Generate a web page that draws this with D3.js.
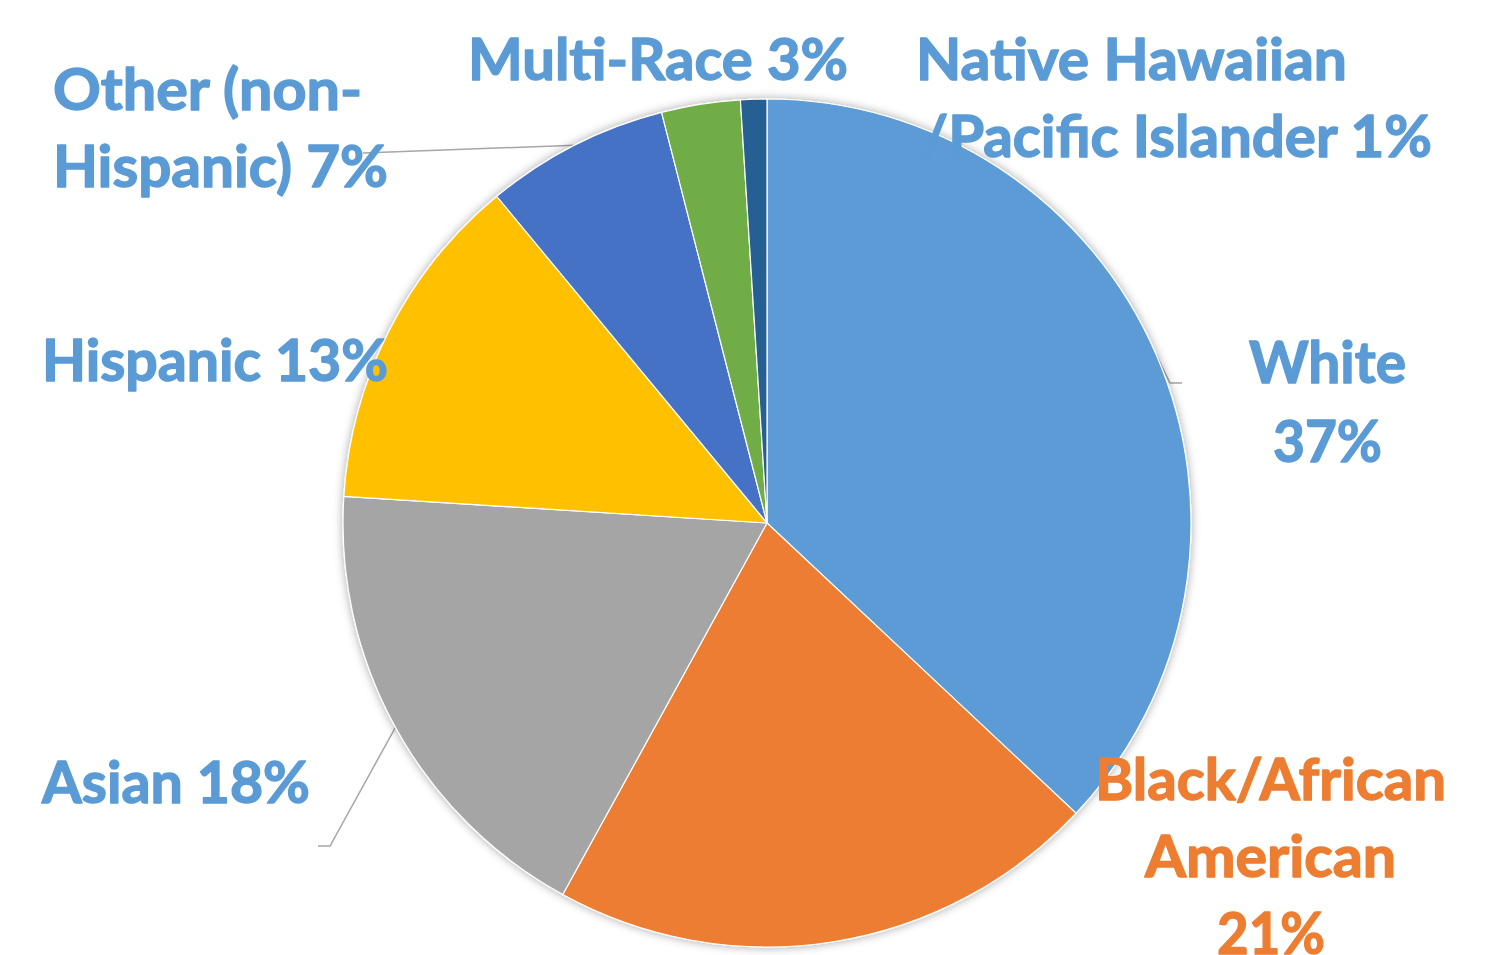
<!DOCTYPE html>
<html>
<head>
<meta charset="utf-8">
<script src="https://cdn.jsdelivr.net/npm/d3@7"></script>
<style>
  html, body { margin: 0; padding: 0; background: #fff; }
  svg { display: block; }
  text { font-family: Lato, "Open Sans", sans-serif; font-weight: 700; }
</style>
</head>
<body>
<svg id="chart" width="1494" height="955"></svg>
<script>
// ---- data ----
const categories = ["White", "Black/African American", "Asian", "Hispanic", "Other (non-Hispanic)", "Multi-Race", "Native Hawaiian /Pacific Islander"];
const values = [37, 21, 18, 13, 7, 3, 1];
const colors = ["#5B9BD5", "#ED7D31", "#A5A5A5", "#FFC000", "#4472C4", "#70AD47", "#255E91"];
const labelColors = ["#5B9BD5", "#ED7D31", "#5B9BD5", "#5B9BD5", "#5B9BD5", "#5B9BD5", "#5B9BD5"];
const labelLines = [
  ["White", "37%"],
  ["Black/African", "American", "21%"],
  ["Asian 18%"],
  ["Hispanic 13%"],
  ["Other (non-", "Hispanic) 7%"],
  ["Multi-Race 3%"],
  ["Native Hawaiian", "/Pacific Islander 1%"]
];

// ---- layout (positions/sizes) ----
const cx = 767, cy = 523, R = 424;
const fontSize = 57;
// per line: [left x, right x, baseline y]
const labelBoxes = [
  [[1249, 1406, 383], [1273, 1382, 462]],
  [[1095, 1446, 800], [1145, 1396, 877], [1217, 1325, 954]],
  [[42, 310, 803]],
  [[42, 388, 381]],
  [[53, 362, 110], [53, 388, 187]],
  [[468, 848, 80]],
  [[916, 1347, 80], [921, 1432, 157]]
];
// leader line extra points (after pie edge point), null = no leader
const leaders = [
  [[1170, 383], [1182, 383]],
  null,
  [[330, 846], [318, 846]],
  null,
  [[363, 153]],
  null,
  null
];

const svg = d3.select("#chart");
const defs = svg.append("defs");
const f = defs.append("filter").attr("id", "shadow")
  .attr("x", "-10%").attr("y", "-10%").attr("width", "120%").attr("height", "120%");
f.append("feDropShadow").attr("dx", 0).attr("dy", 0).attr("stdDeviation", 5)
  .attr("flood-color", "#000").attr("flood-opacity", 0.35);

const data = categories.map((c, i) => ({ name: c, value: values[i], i }));
const pie = d3.pie().sort(null).value(d => d.value).startAngle(0).endAngle(2 * Math.PI);
const arcs = pie(data);
const arc = d3.arc().innerRadius(0).outerRadius(R);
const edgeArc = d3.arc().innerRadius(R).outerRadius(R);

const g = svg.append("g").attr("transform", `translate(${cx},${cy})`);

// leader lines (drawn beneath pie)
const lineGen = d3.line();
arcs.forEach((a, i) => {
  if (!leaders[i]) return;
  const p = edgeArc.centroid(a);
  const pts = [[p[0] + cx, p[1] + cy]].concat(leaders[i]);
  svg.insert("path", "g").attr("d", lineGen(pts))
    .attr("fill", "none").attr("stroke", "#A6A6A6").attr("stroke-width", 1.5);
});

g.append("g").attr("filter", "url(#shadow)")
  .selectAll("path").data(arcs).join("path")
  .attr("d", arc)
  .attr("fill", d => colors[d.data.i])
  .attr("stroke", "#fff").attr("stroke-width", 1.2)
  .attr("stroke-linejoin", "round");

// labels
const lg = svg.append("g");
labelLines.forEach((lines, i) => {
  lines.forEach((t, j) => {
    const [x0, x1, y] = labelBoxes[i][j];
    lg.append("text")
      .attr("x", x0).attr("y", y)
      .attr("font-size", fontSize)
      .attr("fill", labelColors[i])
      .attr("stroke", labelColors[i])
      .attr("stroke-width", 1.4)
      .attr("stroke-linejoin", "round")
      .attr("textLength", x1 - x0)
      .attr("lengthAdjust", "spacingAndGlyphs")
      .text(t);
  });
});
</script>
</body>
</html>
